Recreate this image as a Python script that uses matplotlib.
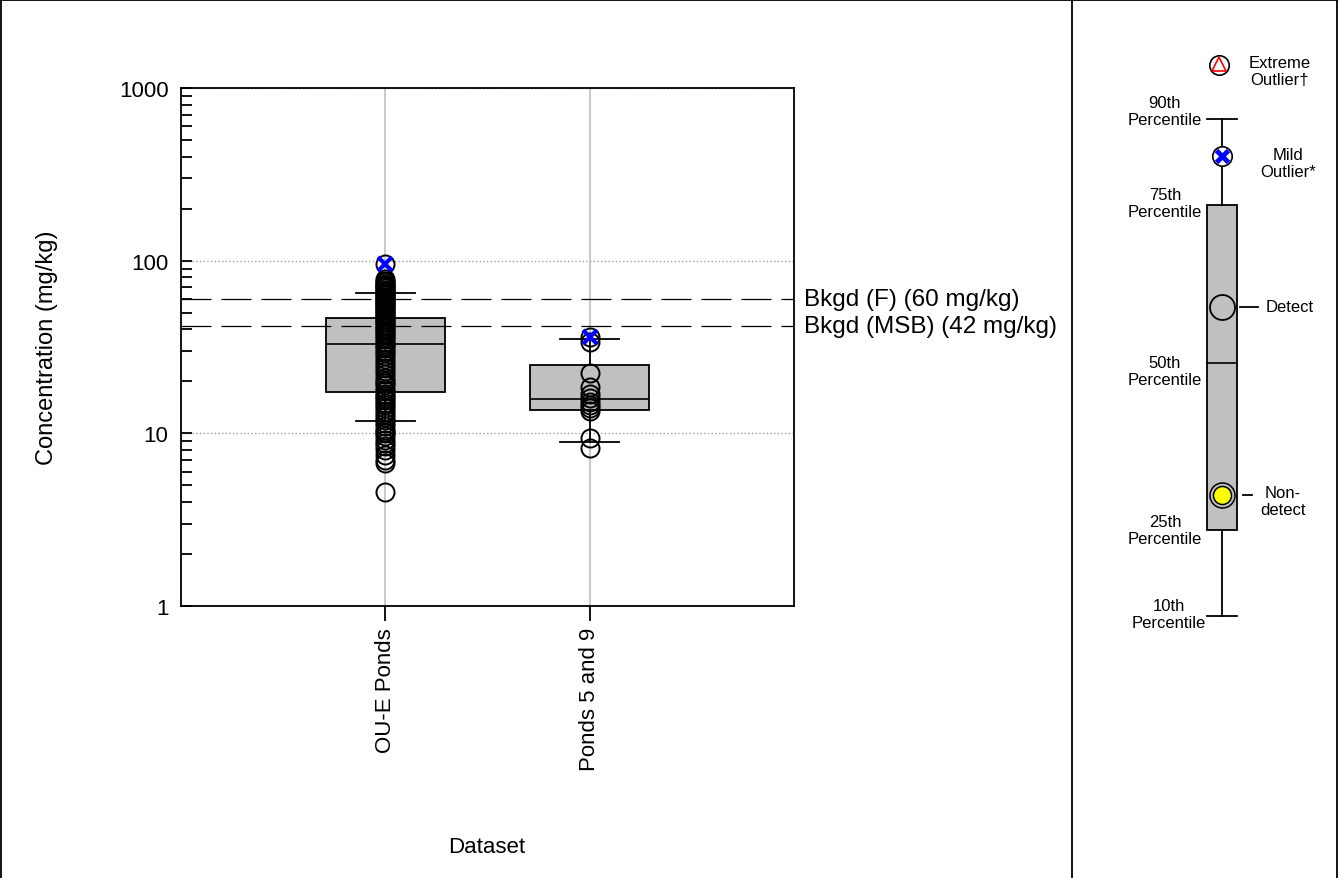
import numpy as np
import matplotlib
matplotlib.use("Agg")
import matplotlib.pyplot as plt
from matplotlib.lines import Line2D
from matplotlib.patches import Rectangle

plt.rcParams['font.family'] = ['Liberation Sans', 'DejaVu Sans']

# data
datasets = ["OU-E Ponds", "Ponds 5 and 9"]
p10 = [11.8, 8.9]
p25 = [17.3, 13.7]
p50 = [32.9, 15.8]
p75 = [46.5, 24.9]
p90 = [64.9, 35.2]

oue_detects = [78, 76, 75, 73, 72, 71, 70, 69, 68, 67, 66, 65, 64, 63, 62,
               61, 60, 59, 58, 57, 56, 55, 54, 53, 52, 51, 50, 49, 48, 47,
               46, 45, 44, 43, 42, 41, 40, 39, 38, 37, 36, 35, 34, 33, 32,
               31, 30, 29, 28, 27, 26, 25, 24, 23, 22, 21, 20, 19.5, 19,
               18, 17.5, 17, 16.5, 16, 15.5, 15, 14.5, 14, 13.5, 13, 12.5,
               12, 11.5, 11, 10.5, 10.2, 10, 9.6, 9.2, 8.8, 8.4, 8.0, 7.5,
               7.0, 6.7, 4.6]
oue_mild = [96]
ponds_detects = [34, 22.4, 18.5, 17, 16, 15.2, 14.5, 14, 13.4, 9.4, 8.2]
ponds_mild = [36]

bkgd_values = [60, 42]
bkgd_labels = ["Bkgd (F) (60 mg/kg)", "Bkgd (MSB) (42 mg/kg)"]

W, H = 1338, 879
fig = plt.figure(figsize=(W / 100, H / 100), dpi=100)

ax = fig.add_axes([181 / W, 1 - 607 / H, (794 - 181) / W, (607 - 89) / H])
ax.set_yscale('log')
ax.set_ylim(1, 1000)
ax.set_xlim(0, 3)

# boxes
stats = []
for i in range(len(datasets)):
    stats.append(dict(whislo=p10[i], q1=p25[i], med=p50[i], q3=p75[i],
                      whishi=p90[i], fliers=[]))
ax.bxp(stats, positions=[1, 2], widths=0.58, patch_artist=True,
       showfliers=False,
       boxprops=dict(facecolor='#c0c0c0', edgecolor='black', linewidth=1.3),
       medianprops=dict(color='black', linewidth=1.2),
       whiskerprops=dict(color='black', linewidth=1.3),
       capprops=dict(color='black', linewidth=1.3),
       capwidths=0.29, zorder=2)

# points
detects = [oue_detects, ponds_detects]
milds = [oue_mild, ponds_mild]
for i in range(len(datasets)):
    pos = i + 1
    ax.plot(np.full(len(detects[i]), pos), detects[i], 'o', ms=13,
            mfc='none', mec='black', mew=1.4, zorder=4)
    ax.plot(np.full(len(milds[i]), pos), milds[i], 'o', ms=13,
            mfc='none', mec='black', mew=1.4, zorder=4)
    ax.plot(np.full(len(milds[i]), pos), milds[i], 'x', ms=10,
            mec='blue', mew=3, zorder=5)

# background lines
for v, lab in zip(bkgd_values, bkgd_labels):
    ax.axhline(v, color='black', lw=0.9, dashes=(24, 8), zorder=3)
    ax.annotate(lab, xy=(1, v), xycoords=('axes fraction', 'data'),
                xytext=(7, 0), textcoords='offset points',
                va='center', ha='left', fontsize=17.5, annotation_clip=False)

ax.set_xticks([1, 2])
ax.set_xticklabels(datasets, rotation=90, fontsize=16)
ax.set_yticks([1, 10, 100, 1000])
ax.set_yticklabels(["1", "10", "100", "1000"], fontsize=16)
ax.tick_params(axis='x', direction='out', length=11, width=1.3, pad=4)
ax.tick_params(axis='y', which='both', direction='in', length=8,
               width=1.3, pad=9)
ax.xaxis.grid(True, color='#c0c0c0', lw=1.2)
ax.yaxis.grid(True, which='major', color='#a0a0a0', lw=1, linestyle=':')
ax.set_axisbelow(True)
for s in ax.spines.values():
    s.set_linewidth(1.3)

ax.set_ylabel("Concentration (mg/kg)", fontsize=17, labelpad=44)
fig.text(487 / W, 1 - 848 / H, "Dataset", fontsize=16,
         ha='center', va='center')

# frame lines
frame = [((1 / W, 1 / W), (0, 1)), ((1 - 1 / W, 1 - 1 / W), (0, 1)),
         ((0, 1), (1 - 1 / H, 1 - 1 / H)), ((1072 / W, 1072 / W), (0, 1))]
for xs, ys in frame:
    fig.add_artist(Line2D(xs, ys, color='black', lw=1.3,
                          transform=fig.transFigure))

# legend key panel, in pixel coordinates
lg = fig.add_axes([1072 / W, 0, (W - 1072) / W, 1])
lg.set_xlim(1072, W)
lg.set_ylim(H, 0)
lg.axis('off')

cx = 1222
key_y = dict(p90=120, p75=206, p50=364, p25=531, p10=617)
lg.plot([cx, cx], [key_y['p90'], key_y['p75']], color='black', lw=1.3)
lg.plot([cx, cx], [key_y['p25'], key_y['p10']], color='black', lw=1.3)
lg.add_patch(Rectangle((1207, key_y['p75']), 30, key_y['p25'] - key_y['p75'],
                       facecolor='#c0c0c0', edgecolor='black', lw=1.3))
for k in ('p90', 'p10'):
    lg.plot([1207, 1237], [key_y[k], key_y[k]], color='black', lw=1.3)
lg.plot([1207, 1237], [key_y['p50'], key_y['p50']], color='black', lw=1.2)

# markers
lg.plot(1219, 66, 'o', ms=14, mfc='white', mec='black', mew=1.2)
lg.plot(1219, 65, '^', ms=10, mfc='none', mec='red', mew=1.2)
lg.plot(cx, 157, 'o', ms=14, mfc='white', mec='black', mew=1.2)
lg.plot(cx, 157, 'x', ms=8, mec='blue', mew=3.5)
lg.plot(cx, 308, 'o', ms=18, mfc='#c0c0c0', mec='black', mew=1.3)
lg.plot(cx, 496, 'o', ms=18, mfc='#c0c0c0', mec='black', mew=1.1)
lg.plot(cx, 496, 'o', ms=13, mfc='yellow', mec='black', mew=1.1)
lg.plot([1240, 1258], [308, 308], color='black', lw=1.3)
lg.plot([1243, 1252], [496, 496], color='black', lw=1.3)

fs = 12
ls = 1.15
lg.text(1280, 72, "Extreme\nOutlier\u2020", fontsize=fs, ha='center',
        va='center', linespacing=ls)
lg.text(1288, 164, "Mild\nOutlier*", fontsize=fs, ha='center',
        va='center', linespacing=ls)
lg.text(1266, 308, "Detect", fontsize=fs, ha='left', va='center')
lg.text(1283, 502, "Non-\ndetect", fontsize=fs, ha='center', va='center',
        linespacing=ls)
pct_labels = [("90th", 112, 1202), ("75th", 204, 1202), ("50th", 372, 1202),
              ("25th", 531, 1202), ("10th", 615, 1206)]
for name, y, xr in pct_labels:
    lg.text(xr, y, name + "\nPercentile", fontsize=fs, ha='right',
            va='center', multialignment='center', linespacing=ls)

fig.savefig("out.png", dpi=100)
